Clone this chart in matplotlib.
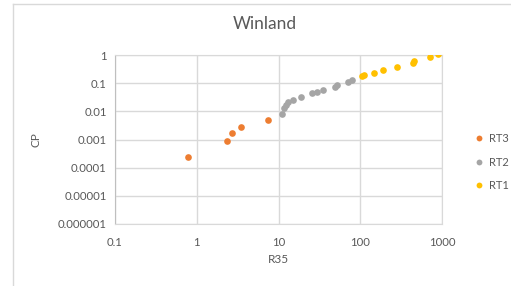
import numpy as np
import matplotlib
matplotlib.use("Agg")
import matplotlib.pyplot as plt
from matplotlib.ticker import FuncFormatter, FixedLocator, NullLocator
from matplotlib.lines import Line2D

plt.rcParams['font.family'] = ['Lato', 'DejaVu Sans']

# datos
rt3_r35 = [0.78, 2.36, 2.72, 3.5, 7.36]
rt3_cp = [0.00024, 0.00091, 0.0017, 0.0027, 0.0048]

rt2_r35 = [10.9, 11.6, 12.3, 13.1, 15.1, 18.8, 25.4, 29.2, 34.6, 49.5, 51.0, 71.1, 78.3]
rt2_cp = [0.0079, 0.0129, 0.0169, 0.021, 0.0254, 0.0324, 0.0438, 0.050, 0.0574, 0.076, 0.086, 0.113, 0.13]

rt1_r35 = [105, 109, 147, 187, 282, 443, 456, 709, 881]
rt1_cp = [0.173, 0.195, 0.224, 0.294, 0.366, 0.508, 0.628, 0.83, 1.05]

x_ticks = [0.1, 1, 10, 100, 1000]
y_ticks = [1e-6, 1e-5, 1e-4, 1e-3, 1e-2, 1e-1, 1]

txt = '#595959'
grid = '#D9D9D9'

fig = plt.figure(figsize=(5.11, 2.86), dpi=100)
ax = fig.add_axes([115 / 511, 1 - 224 / 286, (442.3 - 115) / 511, (224 - 55) / 286])

ms = 4.8
ax.plot(rt3_r35, rt3_cp, 'o', color='#ED7D31', ms=ms, mec='none', zorder=3)
ax.plot(rt2_r35, rt2_cp, 'o', color='#A5A5A5', ms=ms, mec='none', zorder=3)
ax.plot(rt1_r35, rt1_cp, 'o', color='#FFC000', ms=ms, mec='none', zorder=3)

ax.set_xscale('log')
ax.set_yscale('log')
ax.set_xlim(0.1, 1000)
ax.set_ylim(1e-6, 1)
ax.xaxis.set_major_locator(FixedLocator(x_ticks))
ax.yaxis.set_major_locator(FixedLocator(y_ticks))
ax.xaxis.set_minor_locator(NullLocator())
ax.yaxis.set_minor_locator(NullLocator())
fmt = FuncFormatter(lambda v, p: np.format_float_positional(v, trim='-'))
ax.xaxis.set_major_formatter(fmt)
ax.yaxis.set_major_formatter(fmt)
ax.grid(True, color=grid, lw=1)
ax.set_axisbelow(True)
for s in ax.spines.values():
    s.set_color(grid)
ax.spines['left'].set_color('#BFBFBF')
ax.tick_params(length=0, labelsize=8.2, labelcolor=txt, pad=6)
ax.tick_params(axis='x', pad=9)

ax.set_xlabel('R35', fontsize=8.5, color=txt, labelpad=5)
ax.set_ylabel('CP', fontsize=8.5, color=txt, labelpad=12)
fig.text(265 / 511, 1 - 24 / 286, 'Winland', ha='center', va='center', fontsize=12.5, color=txt)

# leyenda
handles = [Line2D([], [], marker='o', ls='none', color=c, ms=4.2, mec='none')
           for c in ['#ED7D31', '#A5A5A5', '#FFC000']]
leg = fig.legend(handles, ['RT3', 'RT2', 'RT1'], loc='center left',
                 bbox_to_anchor=(465 / 511, 1 - 162 / 286), frameon=False,
                 fontsize=8, handlelength=0.8, handletextpad=0.5, labelspacing=1.1)
for t in leg.get_texts():
    t.set_color(txt)

# borde del grafico
fig.add_artist(Line2D([12.5 / 511, 12.5 / 511], [0, 1 - 4 / 286], color=grid, lw=1))
fig.add_artist(Line2D([12.5 / 511, 1], [1 - 4 / 286, 1 - 4 / 286], color=grid, lw=1))

fig.savefig('out.png', dpi=100)
